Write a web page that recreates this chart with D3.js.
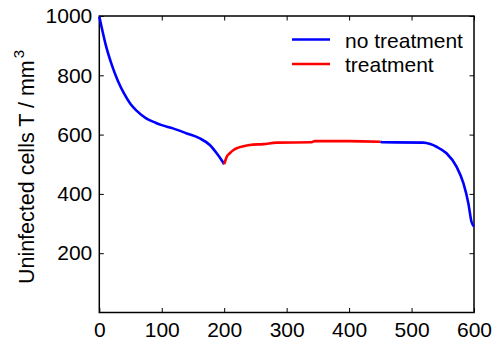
<!DOCTYPE html>
<html>
<head>
<meta charset="utf-8">
<script src="https://cdn.jsdelivr.net/npm/d3@7"></script>
<style>
  html, body { margin: 0; padding: 0; background: #fff; }
  svg text { font-family: "Liberation Sans", Arial, sans-serif; fill: #000; }
</style>
</head>
<body>
<svg id="chart" width="495" height="343"></svg>
<script>
// Uninfected T-cell count over time (days): untreated decline, treatment window, relapse
const preTime   = [0, 5, 10, 20, 30, 40, 50, 60, 75, 90, 100, 118, 140, 161, 177, 188, 197, 200];
const preValue  = [998, 950, 905, 835, 780, 737, 703, 680, 655, 640, 632, 621, 604, 587, 565, 537, 510, 500];

const treatTime  = [200, 204, 209, 215, 220, 231, 241, 263, 284, 340, 345, 400, 450];
const treatValue = [500, 525, 537, 548, 554, 561, 565, 568, 573, 574, 578, 578, 576];

const postTime  = [450, 455, 519, 530, 540, 556, 572, 583, 591, 596, 600];
const postValue = [576, 574, 573, 568, 559, 537, 492, 436, 368, 306, 290];

const xTicks = [0, 100, 200, 300, 400, 500, 600];
const yTicks = [200, 400, 600, 800, 1000];

const legendLabels = ["no treatment", "treatment"];
const seriesColors = ["#0000ff", "#ff0000"];

const svg = d3.select("#chart");
const margin = { left: 99.3, right: 21, top: 16, bottom: 30.5 };
const W = 495, H = 343;

const x = d3.scaleLinear().domain([0, 600]).range([margin.left, W - margin.right]);
const y = d3.scaleLinear().domain([0, 1000]).range([H - margin.bottom, margin.top]);

const x0 = x.range()[0], x1 = x.range()[1];
const y0 = y.range()[0], y1 = y.range()[1];

const tickLen = 4.5;
const fontSize = 21;
const fmt = d3.format("d");

// Bottom axis with inward ticks
const gx = svg.append("g").attr("transform", `translate(0,${y0})`)
  .call(d3.axisBottom(x).tickValues(xTicks).tickFormat(fmt).tickSizeInner(-tickLen).tickSizeOuter(0).tickPadding(10));
// Left axis with inward ticks
const gy = svg.append("g").attr("transform", `translate(${x0},0)`)
  .call(d3.axisLeft(y).tickValues(yTicks).tickFormat(fmt).tickSizeInner(-tickLen).tickSizeOuter(0).tickPadding(7));
// Mirrored top and right ticks (no labels)
const gt = svg.append("g").attr("transform", `translate(0,${y1})`)
  .call(d3.axisTop(x).tickValues(xTicks).tickSizeInner(-tickLen).tickSizeOuter(0).tickFormat(""));
const gr = svg.append("g").attr("transform", `translate(${x1},0)`)
  .call(d3.axisRight(y).tickValues(yTicks).tickSizeInner(-tickLen).tickSizeOuter(0).tickFormat(""));

[gx, gy, gt, gr].forEach(g => {
  g.select(".domain").remove();
  g.selectAll(".tick line").attr("stroke", "#000").attr("stroke-width", 1);
  g.selectAll(".tick text").style("font-size", fontSize + "px").attr("fill", "#000");
});

// Plot box
svg.append("rect")
  .attr("x", x0).attr("y", y1)
  .attr("width", x1 - x0).attr("height", y0 - y1)
  .attr("fill", "none").attr("stroke", "#000").attr("stroke-width", 1.5);

const line = d3.line().x(d => x(d[0])).y(d => y(d[1])).curve(d3.curveMonotoneX);
const zip = (t, v) => t.map((ti, i) => [ti, v[i]]);

const plot = svg.append("g");
plot.append("path").datum(zip(preTime, preValue))
  .attr("d", line).attr("fill", "none").attr("stroke", seriesColors[0]).attr("stroke-width", 2.6);
plot.append("path").datum(zip(postTime, postValue))
  .attr("d", line).attr("fill", "none").attr("stroke", seriesColors[0]).attr("stroke-width", 2.6);
plot.append("path").datum(zip(treatTime, treatValue))
  .attr("d", line).attr("fill", "none").attr("stroke", seriesColors[1]).attr("stroke-width", 2.6);

// Legend
const legend = svg.append("g");
legendLabels.forEach((lab, i) => {
  const ly = 39.5 + i * 24.5;
  legend.append("line")
    .attr("x1", 292).attr("x2", 330).attr("y1", ly).attr("y2", ly)
    .attr("stroke", seriesColors[i]).attr("stroke-width", 2.6);
  legend.append("text")
    .attr("x", 345).attr("y", ly + 8)
    .style("font-size", fontSize + "px")
    .text(lab);
});

// Y-axis title
const yt = svg.append("text")
  .attr("transform", `translate(33.5,167) rotate(-90)`)
  .attr("text-anchor", "middle")
  .style("font-size", "21.5px");
yt.append("tspan").text("Uninfected cells T / mm");
yt.append("tspan").attr("dy", -10).attr("dx", 2).style("font-size", "15px").text("3");
</script>
</body>
</html>
